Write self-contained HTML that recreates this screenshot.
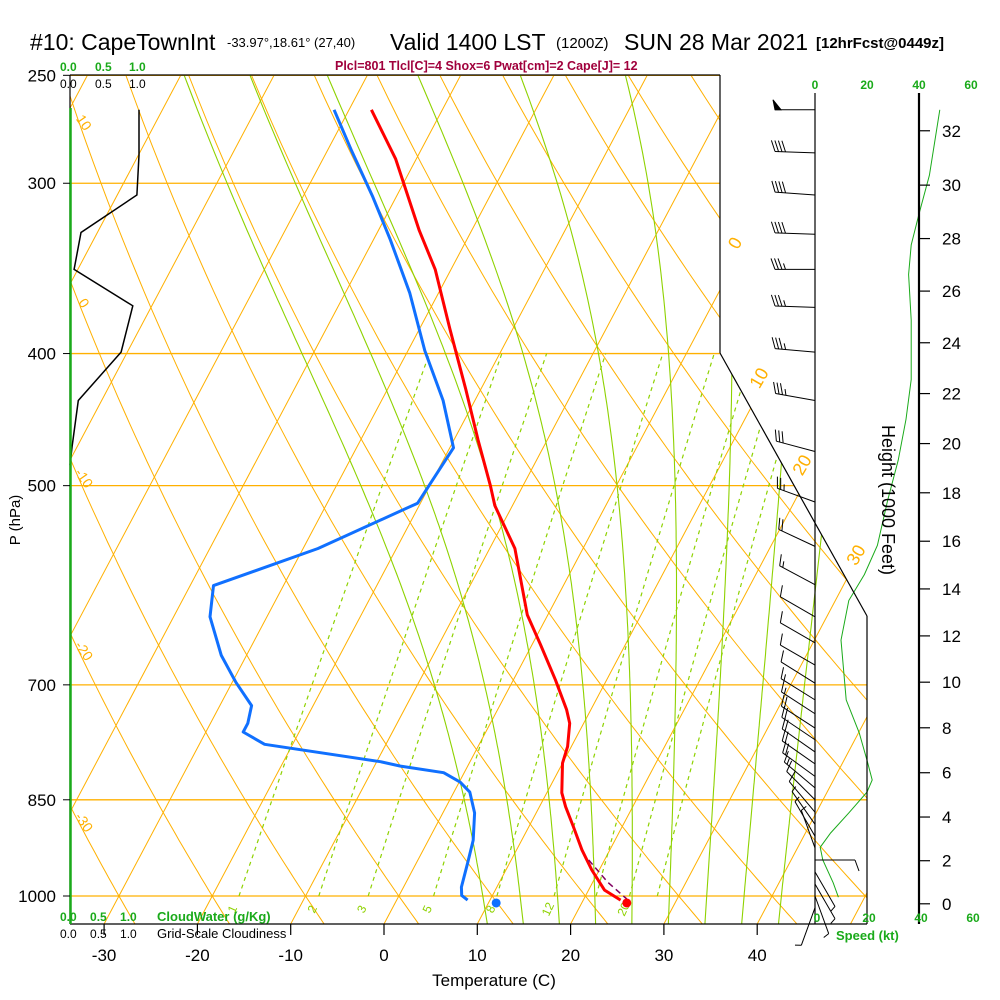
<!DOCTYPE html>
<html><head><meta charset="utf-8"><title>Skew-T CapeTownInt</title>
<style>
html,body{margin:0;padding:0;background:#fff;}
svg{display:block;font-family:"Liberation Sans",sans-serif;}
</style></head>
<body>
<svg id="chart" width="1000" height="1000" viewBox="0 0 1000 1000" xmlns="http://www.w3.org/2000/svg">
<defs>
<clipPath id="skewclip"><polygon points="70,75 720,75 720,353 867,616 867,924 70,924"/></clipPath>
</defs>
<rect x="0" y="0" width="1000" height="1000" fill="#fff"/>
<g id="grid" clip-path="url(#skewclip)"></g>
<g id="data"></g>
<g id="frame"></g>
<g id="labels">
<text x="30" y="50" font-size="23">#10: CapeTownInt</text>
<text x="227" y="47" font-size="13">-33.97°,18.61° (27,40)</text>
<text x="390" y="50" font-size="23">Valid 1400 LST</text>
<text x="556" y="48" font-size="15">(1200Z)</text>
<text x="624" y="50" font-size="23">SUN 28 Mar 2021</text>
<text x="816" y="48" font-size="15" font-weight="bold">[12hrFcst@0449z]</text>
<text x="335" y="70" font-size="12.5" font-weight="bold" fill="#a0003c">Plcl=801 Tlcl[C]=4 Shox=6 Pwat[cm]=2 Cape[J]= 12</text>
<text x="60" y="71" font-size="12" font-weight="bold" fill="#1aaa1a">0.0</text>
<text x="95" y="71" font-size="12" font-weight="bold" fill="#1aaa1a">0.5</text>
<text x="129" y="71" font-size="12" font-weight="bold" fill="#1aaa1a">1.0</text>
<text x="60" y="88" font-size="12">0.0</text>
<text x="95" y="88" font-size="12">0.5</text>
<text x="129" y="88" font-size="12">1.0</text>
<text x="60" y="921" font-size="12" font-weight="bold" fill="#1aaa1a">0.0&#160;&#160;&#160;&#160;0.5&#160;&#160;&#160;&#160;1.0</text>
<text x="157" y="921" font-size="13" font-weight="bold" fill="#1aaa1a">CloudWater (g/Kg)</text>
<text x="60" y="938" font-size="12">0.0&#160;&#160;&#160;&#160;0.5&#160;&#160;&#160;&#160;1.0</text>
<text x="157" y="938" font-size="13">Grid-Scale Cloudiness</text>
<text x="494" y="986" font-size="17" text-anchor="middle">Temperature (C)</text>
<text transform="translate(20,520) rotate(-90)" font-size="15" text-anchor="middle">P (hPa)</text>
<text transform="translate(882,500) rotate(90)" font-size="18" text-anchor="middle">Height (1000 Feet)</text>
<text x="836" y="940" font-size="13" font-weight="bold" fill="#1aaa1a">Speed (kt)</text>
</g>
</svg>
<script>
// ---- data ----
const isobarLabels = [250, 300, 400, 500, 700, 850, 1000];
const tempTicks = [-30, -20, -10, 0, 10, 20, 30, 40];
const heightTicks = [0, 2, 4, 6, 8, 10, 12, 14, 16, 18, 20, 22, 24, 26, 28, 30, 32];
const speedTicks = [0, 20, 40, 60];
const mixRatios = [1, 2, 3, 5, 8, 12, 16, 20, 24];
const mixLabels = [1, 2, 3, 5, 8, 12, 20];
const moistStarts = [9, 13, 17, 21, 25, 29, 33, 37, 41];
const tempP = [265, 288, 325, 347, 384, 425, 463, 500, 517, 556, 622, 654, 694, 730, 747, 777, 799, 840, 860, 890, 925, 957, 990, 1007];
const tempC = [-47.6, -42.2, -35.6, -31.7, -26.7, -21.6, -17.4, -13.5, -11.9, -7.3, -2.2, 0.9, 4.5, 7.4, 8.5, 9.6, 10.0, 11.6, 12.8, 14.8, 17.0, 19.2, 21.7, 24.0];
const dewP = [265, 284, 307, 330, 361, 398, 433, 469, 515, 556, 592, 624, 666, 697, 725, 747, 758, 774, 797, 803, 812, 825, 839, 869, 910, 946, 985, 999, 1007];
const dewC = [-51.6, -47.4, -42.5, -38.2, -33.1, -28.2, -23.4, -19.6, -20.3, -28.4, -37.5, -36.1, -32.7, -29.6, -26.6, -26.0, -26.0, -23.0, -9.6, -7.2, -2.2, 0.1, 1.7, 3.4, 4.8, 5.5, 6.2, 6.7, 7.6];
const parcelP = [941, 977, 1005];
const parcelC = [18.3, 21.6, 24.6];
const sfcP = 1005;
const sfcT = 24.6;
const sfcTd = 10.6;
const cloudP = [265, 286, 306, 326, 347, 369, 399, 433, 468, 483];
const cloudFrac = [1.0, 1.0, 0.97, 0.16, 0.06, 0.91, 0.74, 0.12, 0.03, 0.0];
const windP = [265, 285, 306, 327, 347, 370, 399, 433, 472, 514, 554, 591, 624, 652, 677, 698, 718, 735, 753, 768, 784, 800, 817, 833, 850, 868, 886, 904, 922, 941, 960, 980, 1000, 1020];
const windDir = [270, 272, 274, 272, 270, 272, 275, 280, 285, 290, 295, 298, 300, 300, 300, 302, 302, 303, 303, 304, 305, 305, 306, 310, 315, 320, 325, 330, 340, 90, 150, 150, 160, 200];
const windSpd = [50, 40, 40, 40, 35, 35, 35, 35, 30, 25, 20, 15, 10, 10, 10, 12, 15, 17, 20, 20, 20, 20, 20, 15, 12, 10, 8, 5, 5, 10, 8, 7, 5, 5];
const profP = [265, 296, 316, 333, 350, 378, 418, 447, 479, 512, 553, 581, 607, 649, 718, 759, 795, 822, 839, 869, 899, 921, 941, 978, 1002];
const profSpd = [48, 44, 40, 37, 36, 37, 37, 35, 32, 28, 24, 19, 13, 10, 12, 17, 20, 22, 20, 13, 6, 2, 3, 7, 9];

// ---- axes ----
function yP(p){ return 896 - 592*Math.log(1000/p); }
function xT(T,p){ return 384 + 9.33*T + 0.53*(924 - yP(p)); }
function ySpdX(s){ return 815 + 2.6*s; }
function hToP(kft){ const m = kft*304.8; return 1013.25*Math.pow(1 - 6.5e-3*m/288.15, 5.255); }
function es(T){ return 6.112*Math.exp(17.67*T/(T+243.5)); }

const NS = "http://www.w3.org/2000/svg";
function mk(parent, tag, attrs){ const el = document.createElementNS(NS, tag); for (const k in attrs) el.setAttribute(k, attrs[k]); parent.appendChild(el); return el; }
const grid = document.getElementById('grid');
const dataG = document.getElementById('data');
const frame = document.getElementById('frame');
const labels = document.getElementById('labels');
const ORANGE = '#ffb000';
function pts(arr){ return arr.map(a => a[0].toFixed(1)+','+a[1].toFixed(1)).join(' '); }

// isobars
isobarLabels.forEach(p => {
  const l = mk(grid, 'line', {x1:70, x2:867, y1:yP(p), y2:yP(p), stroke:ORANGE, 'stroke-width':1.3});
  
  
});
// isotherms
for (let T = -130; T <= 50; T += 10) {
  const l = mk(grid, 'line', {x1:xT(T,1060), y1:yP(1060), x2:xT(T,240), y2:yP(240), stroke:ORANGE, 'stroke-width':1});
  
  
}
// dry adiabats
for (let th = -50; th <= 160; th += 10) {
  const a = [];
  for (let p = 1060; p >= 240; p -= 10) { const T = (th+273.15)*Math.pow(p/1000, 0.2857) - 273.15; a.push([xT(T,p), yP(p)]); }
  const l = mk(grid, 'polyline', {points:pts(a), fill:'none', stroke:ORANGE, 'stroke-width':1});
  
  
}
// moist adiabats
function dTdp(T,p){ const Tk=T+273.15, e=es(T), rs=0.622*e/(p-e), Rd=287, cp=1005, Lv=2.5e6;
  return (1/p)*(Rd*Tk+Lv*rs)/(cp+Lv*Lv*rs*0.622/(Rd*Tk*Tk)); }
moistStarts.forEach(T0 => {
  const a = [];
  let T = T0; for (let p = 1000; p < 1060; p += 5) { T += dTdp(T,p)*5; }
  a.push([xT(T,1060), yP(1060)]);
  T = T0; a.push([xT(T,1000), yP(1000)]);
  for (let p = 1000; p > 240; p -= 5) { T -= dTdp(T,p)*5; a.push([xT(T,p-5), yP(p-5)]); }
  const l = mk(grid, 'polyline', {points:pts(a), fill:'none', stroke:'#8ed200', 'stroke-width':1.1});
  
  
});
// mixing ratio lines
mixRatios.forEach(w => {
  const a = [];
  for (let p = 1000; p >= 400; p -= 20) { const e = w*p/(622+w), L = Math.log(e/6.112); const Td = 243.5*L/(17.67-L); a.push([xT(Td,p), yP(p)]); }
  const l = mk(grid, 'polyline', {points:pts(a), fill:'none', stroke:'#8ed200', 'stroke-width':1.2, 'stroke-dasharray':'4,4'});
  
  
  if (mixLabels.indexOf(w) >= 0) {
    const p = 1015, e = w*p/(622+w), L = Math.log(e/6.112), Td = 243.5*L/(17.67-L);
    const x = xT(Td,p), y = yP(p)+6;
    const t = mk(grid, 'text', {x:x, y:y, 'font-size':12, fill:'#8ed200', 'text-anchor':'middle', transform:'rotate(-65 '+x+' '+y+')'});
    t.textContent = String(w);
    
    
  }
});
// dry adiabat labels at left edge
[10, 0, -10, -20, -30].forEach(th => {
  let best = 300, bd = 1e9;
  for (let p = 250; p <= 1050; p += 1) { const T = (th+273.15)*Math.pow(p/1000,0.2857)-273.15; const d = Math.abs(xT(T,p)-80); if (d<bd){bd=d;best=p;} }
  const y = yP(best);
  const t = mk(labels, 'text', {x:80, y:y, 'font-size':14, fill:ORANGE, 'text-anchor':'middle', transform:'rotate(55 80 '+y+')'});
  t.textContent = String(th);
  
  
});
// isotherm labels along right boundary
[[0, 735, 243], [10, 759, 378], [20, 802, 465], [30, 856, 555]].forEach(d => {
  const t = mk(labels, 'text', {x:d[1], y:d[2]+6, 'font-size':18, fill:ORANGE, 'text-anchor':'middle', transform:'rotate(-60 '+d[1]+' '+d[2]+')'});
  t.textContent = String(d[0]);
  
  
});

// ---- frame ----
[[70,75,720,75],[70,75,70,924],[720,75,720,353],[720,353,867,616],[867,616,867,924],[70,924,867,924]].forEach(s => {
  const l = mk(frame, 'line', {x1:s[0], y1:s[1], x2:s[2], y2:s[3], stroke:'#000', 'stroke-width':1.2});
  
  
});
const staff = mk(frame, 'line', {x1:815, y1:93, x2:815, y2:924, stroke:'#000', 'stroke-width':1.2});


const hax = mk(frame, 'line', {x1:919, y1:93, x2:919, y2:924, stroke:'#000', 'stroke-width':2.2});


const cw = mk(frame, 'line', {x1:70.5, y1:108, x2:70.5, y2:924, stroke:'#1aaa1a', 'stroke-width':2.5});



isobarLabels.forEach(p => {
  const t = mk(labels, 'text', {x:56, y:yP(p)+6, 'font-size':17, 'text-anchor':'end'});
  t.textContent = String(p);
  
  
  const k = mk(frame, 'line', {x1:63, x2:70, y1:yP(p), y2:yP(p), stroke:'#000'});
  
  
});
tempTicks.forEach(T => {
  const x = 384 + 9.33*T;
  const k = mk(frame, 'line', {x1:x, x2:x, y1:924, y2:935, stroke:'#000', 'stroke-width':1.2});
  
  
  const t = mk(labels, 'text', {x:x, y:961, 'font-size':17, 'text-anchor':'middle'});
  t.textContent = String(T);
  
  
});
heightTicks.forEach(h => {
  const y = yP(hToP(h));
  const k = mk(frame, 'line', {x1:919, x2:930, y1:y, y2:y, stroke:'#000', 'stroke-width':1.2});
  
  
  const t = mk(labels, 'text', {x:942, y:y+6, 'font-size':17});
  t.textContent = String(h);
  
  
});
speedTicks.forEach(s => {
  const x = ySpdX(s);
  const t = mk(labels, 'text', {x:x, y:89, 'font-size':12, 'font-weight':'bold', fill:'#1aaa1a', 'text-anchor':'middle'});
  t.textContent = String(s);
  
  
  const b = mk(labels, 'text', {x:x+2, y:922, 'font-size':12, 'font-weight':'bold', fill:'#1aaa1a', 'text-anchor':'middle'});
  b.textContent = String(s);
  
  
});

// ---- series ----
const cloud = mk(dataG, 'polyline', {points:pts(cloudP.map((p,i)=>[70+69*cloudFrac[i], yP(p)])), fill:'none', stroke:'#000', 'stroke-width':1.5});


const prof = mk(dataG, 'polyline', {points:pts(profP.map((p,i)=>[ySpdX(profSpd[i]), yP(p)])), fill:'none', stroke:'#1aaa1a', 'stroke-width':1});


const dew = mk(dataG, 'polyline', {points:pts(dewP.map((p,i)=>[xT(dewC[i],p), yP(p)])), fill:'none', stroke:'#1070ff', 'stroke-width':3, 'stroke-linejoin':'round'});


const tmp = mk(dataG, 'polyline', {points:pts(tempP.map((p,i)=>[xT(tempC[i],p), yP(p)])), fill:'none', stroke:'#ff0000', 'stroke-width':3, 'stroke-linejoin':'round'});


const par = mk(dataG, 'polyline', {points:pts(parcelP.map((p,i)=>[xT(parcelC[i],p), yP(p)])), fill:'none', stroke:'#800060', 'stroke-width':1.5, 'stroke-dasharray':'6,4'});


const sd = mk(dataG, 'circle', {cx:xT(sfcT,sfcP), cy:yP(sfcP)+4, r:4.5, fill:'#ff0000'});


const sdd = mk(dataG, 'circle', {cx:xT(sfcTd,sfcP), cy:yP(sfcP)+4, r:4.5, fill:'#1070ff'});



// wind barbs
windP.forEach((p,i) => {
  const d = windDir[i]*Math.PI/180, s = windSpd[i];
  const bx = 815, by = yP(p);
  const ux = Math.sin(d), uy = -Math.cos(d);
  const px = -uy, py = ux;
  const L = 40;
  const g = mk(dataG, 'g', {stroke:'#000', 'stroke-width':1, fill:'#000'});
  
  
  mk(g, 'line', {x1:bx, y1:by, x2:bx+ux*L, y2:by+uy*L});
  let rem = s, pos = L;
  while (rem >= 50) {
    const ax = bx+ux*pos, ay = by+uy*pos;
    mk(g, 'polygon', {points: pts([[ax,ay],[ax+px*10+ux*2, ay+py*10+uy*2],[bx+ux*(pos-6), by+uy*(pos-6)]])});
    pos -= 8; rem -= 50;
  }
  while (rem >= 10) {
    const ax = bx+ux*pos, ay = by+uy*pos;
    mk(g, 'line', {x1:ax, y1:ay, x2:ax+px*11+ux*4, y2:ay+py*11+uy*4});
    pos -= 3.5; rem -= 10;
  }
  if (rem >= 5) {
    const ax = bx+ux*pos, ay = by+uy*pos;
    mk(g, 'line', {x1:ax, y1:ay, x2:ax+px*6+ux*2, y2:ay+py*6+uy*2});
  }
});
</script>
</body></html>
